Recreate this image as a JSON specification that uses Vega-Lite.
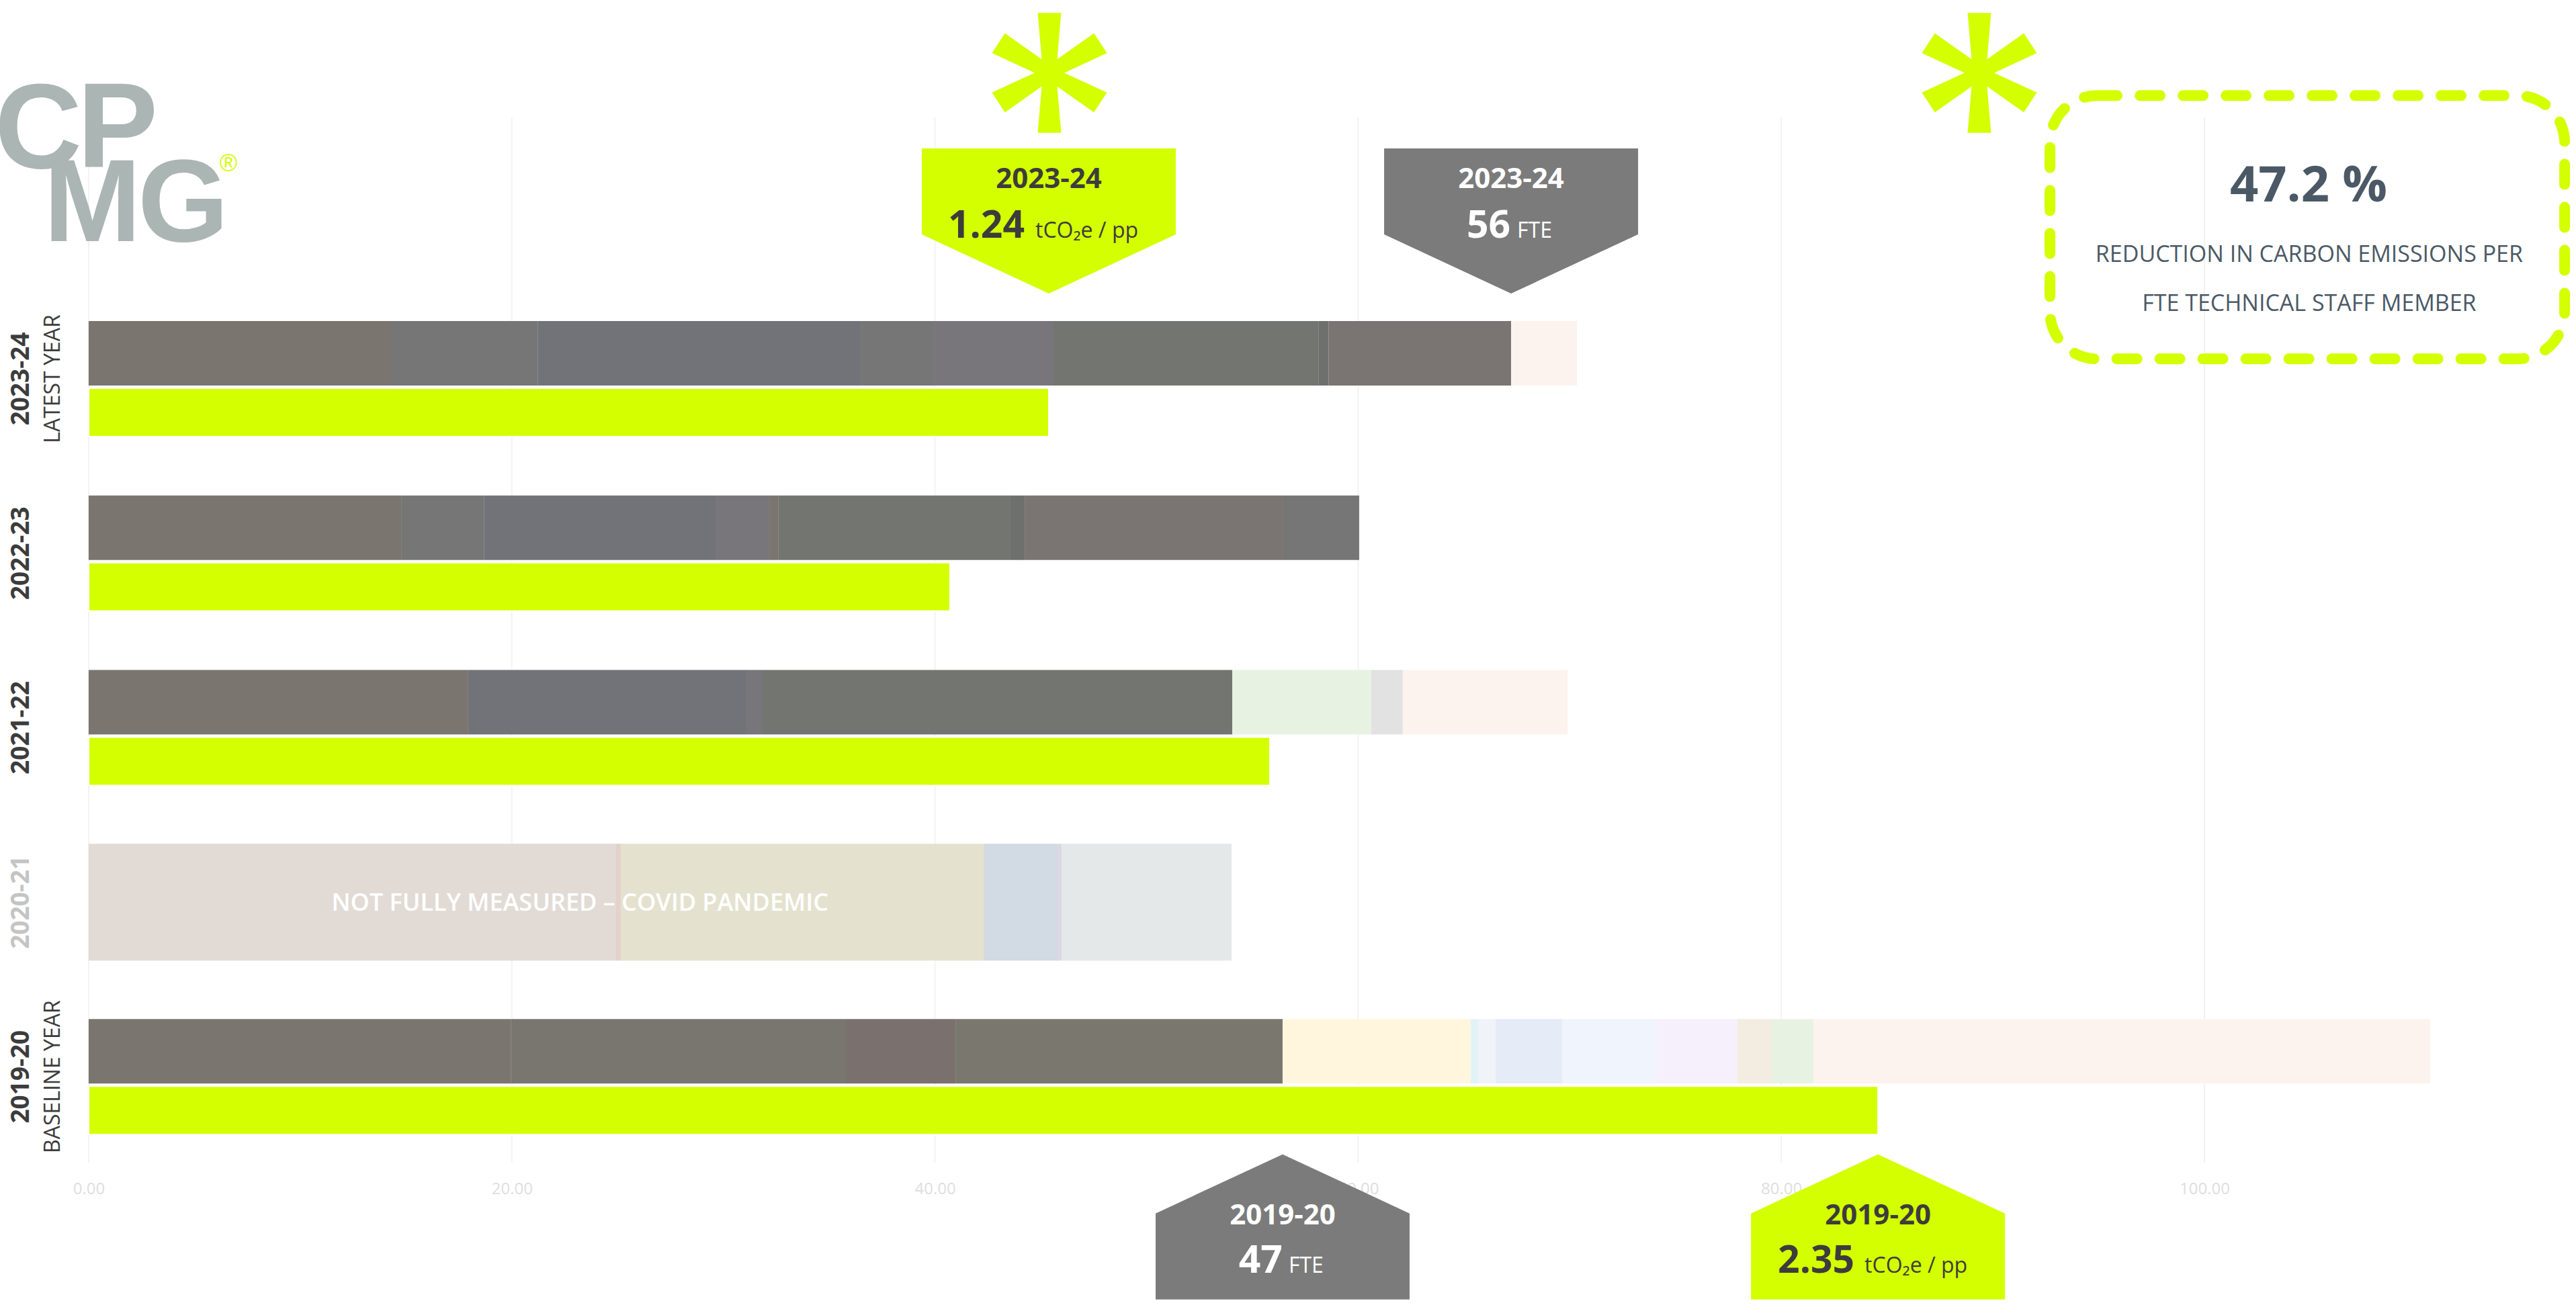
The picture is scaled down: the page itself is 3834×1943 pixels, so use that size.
{
  "$schema": "https://vega.github.io/schema/vega-lite/v6.json",
  "width": 3834,
  "height": 1943,
  "autosize": {"type": "none"},
  "padding": 0,
  "background": "white",
  "config": {"view": {"stroke": null}, "font": "Open Sans"},
  "datasets": {
    "ticks": [{"v": 0}, {"v": 20}, {"v": 40}, {"v": 60}, {"v": 80}, {"v": 100}],
    "segments": [
      {"fy": 2023, "tone": "d_brown", "start": 0, "end": 14.26},
      {"fy": 2023, "tone": "d_grey", "start": 14.26, "end": 21.24},
      {"fy": 2023, "tone": "d_blue", "start": 21.24, "end": 36.49},
      {"fy": 2023, "tone": "d_grey", "start": 36.49, "end": 39.98},
      {"fy": 2023, "tone": "d_purple", "start": 39.98, "end": 45.57},
      {"fy": 2023, "tone": "d_green", "start": 45.57, "end": 58.14},
      {"fy": 2023, "tone": "d_green2", "start": 58.14, "end": 58.6},
      {"fy": 2023, "tone": "d_rose", "start": 58.6, "end": 67.23},
      {"fy": 2023, "tone": "l_peach", "start": 67.23, "end": 70.34},
      {"fy": 2022, "tone": "d_brown", "start": 0, "end": 14.77},
      {"fy": 2022, "tone": "d_grey", "start": 14.77, "end": 18.7},
      {"fy": 2022, "tone": "d_blue", "start": 18.7, "end": 29.66},
      {"fy": 2022, "tone": "d_purple", "start": 29.66, "end": 32.2},
      {"fy": 2022, "tone": "d_brown", "start": 32.2, "end": 32.61},
      {"fy": 2022, "tone": "d_green", "start": 32.61, "end": 43.54},
      {"fy": 2022, "tone": "d_green2", "start": 43.54, "end": 44.24},
      {"fy": 2022, "tone": "d_rose", "start": 44.24, "end": 56.43},
      {"fy": 2022, "tone": "d_grey", "start": 56.43, "end": 60.05},
      {"fy": 2021, "tone": "d_brown", "start": 0, "end": 17.94},
      {"fy": 2021, "tone": "d_blue", "start": 17.94, "end": 31.12},
      {"fy": 2021, "tone": "d_purple", "start": 31.12, "end": 31.82},
      {"fy": 2021, "tone": "d_green", "start": 31.82, "end": 54.05},
      {"fy": 2021, "tone": "l_green", "start": 54.05, "end": 60.62},
      {"fy": 2021, "tone": "l_grey", "start": 60.62, "end": 62.11},
      {"fy": 2021, "tone": "l_peach", "start": 62.11, "end": 69.9},
      {"fy": 2020, "tone": "c_rose", "start": 0, "end": 24.93},
      {"fy": 2020, "tone": "c_red", "start": 24.93, "end": 25.15},
      {"fy": 2020, "tone": "c_beige", "start": 25.15, "end": 42.3},
      {"fy": 2020, "tone": "c_blue", "start": 42.3, "end": 45.76},
      {"fy": 2020, "tone": "c_lilac", "start": 45.76, "end": 46.0},
      {"fy": 2020, "tone": "c_grey", "start": 46.0, "end": 54.02},
      {"fy": 2019, "tone": "d_brown", "start": 0, "end": 19.97},
      {"fy": 2019, "tone": "d_brown2", "start": 19.97, "end": 35.79},
      {"fy": 2019, "tone": "d_red", "start": 35.79, "end": 40.97},
      {"fy": 2019, "tone": "d_olive", "start": 40.97, "end": 56.43},
      {"fy": 2019, "tone": "l_yellow", "start": 56.43, "end": 65.32},
      {"fy": 2019, "tone": "l_cyan", "start": 65.32, "end": 65.67},
      {"fy": 2019, "tone": "l_ice", "start": 65.67, "end": 66.5},
      {"fy": 2019, "tone": "l_blue", "start": 66.5, "end": 69.64},
      {"fy": 2019, "tone": "l_sky", "start": 69.64, "end": 74.09},
      {"fy": 2019, "tone": "l_lilac", "start": 74.09, "end": 77.93},
      {"fy": 2019, "tone": "l_sand", "start": 77.93, "end": 79.55},
      {"fy": 2019, "tone": "l_green", "start": 79.55, "end": 81.52},
      {"fy": 2019, "tone": "l_peach", "start": 81.52, "end": 110.67}
    ],
    "emissions": [
      {"fy": 2023, "value": 45.38},
      {"fy": 2022, "value": 40.71},
      {"fy": 2021, "value": 55.83},
      {"fy": 2019, "value": 84.57}
    ],
    "years": [
      {"fy": 2023, "label": "2023-24", "sub": "LATEST YEAR"},
      {"fy": 2022, "label": "2022-23", "sub": ""},
      {"fy": 2021, "label": "2021-22", "sub": ""},
      {"fy": 2020, "label": "2020-21", "sub": ""},
      {"fy": 2019, "label": "2019-20", "sub": "BASELINE YEAR"}
    ],
    "callouts": [
      {"fy": 2023, "side": "top", "metric": "emissions", "value": 45.38, "period": "2023-24", "number": "1.24", "unit": "tCO₂e / pp"},
      {"fy": 2023, "side": "top", "metric": "staff", "value": 67.23, "period": "2023-24", "number": "56", "unit": "FTE"},
      {"fy": 2019, "side": "bottom", "metric": "staff", "value": 56.43, "period": "2019-20", "number": "47", "unit": "FTE"},
      {"fy": 2019, "side": "bottom", "metric": "emissions", "value": 84.57, "period": "2019-20", "number": "2.35", "unit": "tCO₂e / pp"}
    ]
  },
  "layer": [
    {
      "data": {"name": "ticks"},
      "mark": {"type": "rule", "color": "#f3f3f3", "strokeWidth": 2},
      "encoding": {
        "x": {"field": "v", "type": "quantitative", "scale": {"domain": [-4.19, 117.56], "nice": false, "zero": false},
              "axis": {"orient": "bottom", "offset": -203, "values": [0, 20, 40, 60, 80, 100], "format": ".2f", "grid": false, "ticks": false, "domain": false, "labelColor": "#dedede", "labelFontSize": 24, "labelFont": "Open Sans", "labelPadding": 18, "title": null}},
        "y": {"datum": 2024.498, "type": "quantitative", "scale": {"domain": [2017.711, 2025.152], "nice": false, "zero": false}, "axis": null},
        "y2": {"datum": 2018.508}
      }
    },
    {
      "data": {"name": "segments"},
      "transform": [{"filter": "datum.fy !== 2020"}],
      "mark": {"type": "bar", "orient": "horizontal", "size": 96, "yOffset": -38},
      "encoding": {
        "x": {"field": "start", "type": "quantitative", "scale": {"domain": [-4.19, 117.56], "nice": false, "zero": false}},
        "x2": {"field": "end"},
        "y": {"field": "fy", "type": "quantitative", "scale": {"domain": [2017.711, 2025.152], "nice": false, "zero": false}, "axis": null},
        "color": {"field": "tone", "type": "nominal", "legend": null,
          "scale": {
            "domain": ["d_brown", "d_brown2", "d_grey", "d_blue", "d_purple", "d_green", "d_green2", "d_rose", "d_red", "d_olive", "l_peach", "l_green", "l_grey", "l_yellow", "l_cyan", "l_ice", "l_blue", "l_sky", "l_lilac", "l_sand", "c_rose", "c_red", "c_beige", "c_blue", "c_lilac", "c_grey"],
            "range": ["#7a756e", "#797670", "#767676", "#727378", "#78757b", "#737670", "#6e706d", "#7a7572", "#7a706e", "#7a776f", "#fcf3ee", "#e8f2e2", "#e2e2e2", "#fff6dd", "#e2f3f8", "#f0f3f8", "#e5ebf7", "#eff4fd", "#f6f0fd", "#f2ede0", "#e2dbd5", "#e6d0ca", "#e4e2cf", "#d2dae3", "#dbd7e3", "#e4e8e8"]
          }}
      }
    },
    {
      "data": {"name": "segments"},
      "transform": [{"filter": "datum.fy === 2020"}],
      "mark": {"type": "bar", "orient": "horizontal", "size": 174},
      "encoding": {
        "x": {"field": "start", "type": "quantitative", "scale": {"domain": [-4.19, 117.56], "nice": false, "zero": false}},
        "x2": {"field": "end"},
        "y": {"field": "fy", "type": "quantitative", "scale": {"domain": [2017.711, 2025.152], "nice": false, "zero": false}, "axis": null},
        "color": {"field": "tone", "type": "nominal", "legend": null,
          "scale": {
            "domain": ["d_brown", "d_brown2", "d_grey", "d_blue", "d_purple", "d_green", "d_green2", "d_rose", "d_red", "d_olive", "l_peach", "l_green", "l_grey", "l_yellow", "l_cyan", "l_ice", "l_blue", "l_sky", "l_lilac", "l_sand", "c_rose", "c_red", "c_beige", "c_blue", "c_lilac", "c_grey"],
            "range": ["#7a756e", "#797670", "#767676", "#727378", "#78757b", "#737670", "#6e706d", "#7a7572", "#7a706e", "#7a776f", "#fcf3ee", "#e8f2e2", "#e2e2e2", "#fff6dd", "#e2f3f8", "#f0f3f8", "#e5ebf7", "#eff4fd", "#f6f0fd", "#f2ede0", "#e2dbd5", "#e6d0ca", "#e4e2cf", "#d2dae3", "#dbd7e3", "#e4e8e8"]
          }}
      }
    },
    {
      "data": {"name": "emissions"},
      "mark": {"type": "bar", "orient": "horizontal", "size": 72, "yOffset": 50, "color": "#d4ff00", "stroke": "white", "strokeWidth": 2},
      "encoding": {
        "x": {"field": "value", "type": "quantitative", "stack": null, "scale": {"domain": [-4.19, 117.56], "nice": false, "zero": false}},
        "y": {"field": "fy", "type": "quantitative", "scale": {"domain": [2017.711, 2025.152], "nice": false, "zero": false}, "axis": null}
      }
    },
    {
      "data": {"values": [{"note": "NOT FULLY MEASURED – COVID PANDEMIC"}]},
      "mark": {"type": "text", "color": "white", "fontSize": 36, "fontWeight": 600, "align": "center", "baseline": "alphabetic"},
      "encoding": {
        "text": {"field": "note", "type": "nominal"},
        "x": {"datum": 23.22, "type": "quantitative", "scale": {"domain": [-4.19, 117.56], "nice": false, "zero": false}},
        "y": {"datum": 2019.951, "type": "quantitative", "scale": {"domain": [2017.711, 2025.152], "nice": false, "zero": false}, "axis": null}
      }
    },
    {
      "data": {"name": "years"},
      "mark": {"type": "text", "angle": 270, "fontSize": 37, "fontWeight": "bold", "align": "center", "baseline": "alphabetic"},
      "encoding": {
        "text": {"field": "label", "type": "nominal"},
        "x": {"datum": -2.826, "type": "quantitative", "scale": {"domain": [-4.19, 117.56], "nice": false, "zero": false}},
        "y": {"field": "fy", "type": "quantitative", "scale": {"domain": [2017.711, 2025.152], "nice": false, "zero": false}, "axis": null},
        "color": {"condition": {"test": "datum.fy === 2020", "value": "#c4c4c4"}, "value": "#3c3c3c"}
      }
    },
    {
      "data": {"name": "years"},
      "mark": {"type": "text", "angle": 270, "fontSize": 32, "color": "#3c3c3c", "align": "center", "baseline": "alphabetic"},
      "encoding": {
        "text": {"field": "sub", "type": "nominal"},
        "x": {"datum": -1.365, "type": "quantitative", "scale": {"domain": [-4.19, 117.56], "nice": false, "zero": false}},
        "y": {"field": "fy", "type": "quantitative", "scale": {"domain": [2017.711, 2025.152], "nice": false, "zero": false}, "axis": null}
      }
    },
    {
      "data": {"name": "callouts"},
      "transform": [{"filter": "datum.side === 'top'"}],
      "mark": {"type": "point", "filled": true, "opacity": 1, "size": 142884, "shape": "M 0 -0.672 L 1 -1.1376 L 1 -1.8148 L -1 -1.8148 L -1 -1.1376 Z"},
      "encoding": {
        "x": {"field": "value", "type": "quantitative", "scale": {"domain": [-4.19, 117.56], "nice": false, "zero": false}},
        "y": {"field": "fy", "type": "quantitative", "scale": {"domain": [2017.711, 2025.152], "nice": false, "zero": false}, "axis": null},
        "fill": {"field": "metric", "type": "nominal", "legend": null, "scale": {"domain": ["emissions", "staff"], "range": ["#d4ff00", "#7b7b7b"]}}
      }
    },
    {
      "data": {"name": "callouts"},
      "transform": [{"filter": "datum.side === 'bottom'"}],
      "mark": {"type": "point", "filled": true, "opacity": 1, "size": 142884, "shape": "M 0 0.611 L 1 1.0767 L 1 1.754 L -1 1.754 L -1 1.0767 Z"},
      "encoding": {
        "x": {"field": "value", "type": "quantitative", "scale": {"domain": [-4.19, 117.56], "nice": false, "zero": false}},
        "y": {"field": "fy", "type": "quantitative", "scale": {"domain": [2017.711, 2025.152], "nice": false, "zero": false}, "axis": null},
        "fill": {"field": "metric", "type": "nominal", "legend": null, "scale": {"domain": ["emissions", "staff"], "range": ["#d4ff00", "#7b7b7b"]}}
      }
    },
    {
      "data": {"name": "callouts"},
      "transform": [{"filter": "datum.side === 'top'"}],
      "mark": {"type": "text", "fontSize": 42, "fontWeight": "bold", "align": "center", "baseline": "alphabetic", "dy": -284},
      "encoding": {
        "text": {"field": "period", "type": "nominal"},
        "x": {"field": "value", "type": "quantitative", "scale": {"domain": [-4.19, 117.56], "nice": false, "zero": false}},
        "y": {"field": "fy", "type": "quantitative", "scale": {"domain": [2017.711, 2025.152], "nice": false, "zero": false}, "axis": null},
        "color": {"condition": {"test": "datum.metric === 'staff'", "value": "#ffffff"}, "value": "#3c3c3c"}
      }
    },
    {
      "data": {"name": "callouts"},
      "transform": [{"filter": "datum.side === 'bottom'"}],
      "mark": {"type": "text", "fontSize": 42, "fontWeight": "bold", "align": "center", "baseline": "alphabetic", "dy": 220},
      "encoding": {
        "text": {"field": "period", "type": "nominal"},
        "x": {"field": "value", "type": "quantitative", "scale": {"domain": [-4.19, 117.56], "nice": false, "zero": false}},
        "y": {"field": "fy", "type": "quantitative", "scale": {"domain": [2017.711, 2025.152], "nice": false, "zero": false}, "axis": null},
        "color": {"condition": {"test": "datum.metric === 'staff'", "value": "#ffffff"}, "value": "#3c3c3c"}
      }
    },
    {
      "data": {"name": "callouts"},
      "transform": [{"filter": "datum.side === 'top' && datum.metric === 'emissions'"}],
      "mark": {"type": "text", "fontSize": 57, "fontWeight": "bold", "align": "right", "baseline": "alphabetic", "dy": -210, "dx": -36, "color": "#3c3c3c"},
      "encoding": {
        "text": {"field": "number", "type": "nominal"},
        "x": {"field": "value", "type": "quantitative", "scale": {"domain": [-4.19, 117.56], "nice": false, "zero": false}},
        "y": {"field": "fy", "type": "quantitative", "scale": {"domain": [2017.711, 2025.152], "nice": false, "zero": false}, "axis": null}
      }
    },
    {
      "data": {"name": "callouts"},
      "transform": [{"filter": "datum.side === 'top' && datum.metric === 'emissions'"}],
      "mark": {"type": "text", "fontSize": 32, "align": "left", "baseline": "alphabetic", "dy": -210, "dx": -20, "color": "#3c3c3c"},
      "encoding": {
        "text": {"field": "unit", "type": "nominal"},
        "x": {"field": "value", "type": "quantitative", "scale": {"domain": [-4.19, 117.56], "nice": false, "zero": false}},
        "y": {"field": "fy", "type": "quantitative", "scale": {"domain": [2017.711, 2025.152], "nice": false, "zero": false}, "axis": null}
      }
    },
    {
      "data": {"name": "callouts"},
      "transform": [{"filter": "datum.side === 'top' && datum.metric === 'staff'"}],
      "mark": {"type": "text", "fontSize": 57, "fontWeight": "bold", "align": "right", "baseline": "alphabetic", "dy": -210, "dx": -1, "color": "#ffffff"},
      "encoding": {
        "text": {"field": "number", "type": "nominal"},
        "x": {"field": "value", "type": "quantitative", "scale": {"domain": [-4.19, 117.56], "nice": false, "zero": false}},
        "y": {"field": "fy", "type": "quantitative", "scale": {"domain": [2017.711, 2025.152], "nice": false, "zero": false}, "axis": null}
      }
    },
    {
      "data": {"name": "callouts"},
      "transform": [{"filter": "datum.side === 'top' && datum.metric === 'staff'"}],
      "mark": {"type": "text", "fontSize": 32, "align": "left", "baseline": "alphabetic", "dy": -210, "dx": 9, "color": "#ffffff"},
      "encoding": {
        "text": {"field": "unit", "type": "nominal"},
        "x": {"field": "value", "type": "quantitative", "scale": {"domain": [-4.19, 117.56], "nice": false, "zero": false}},
        "y": {"field": "fy", "type": "quantitative", "scale": {"domain": [2017.711, 2025.152], "nice": false, "zero": false}, "axis": null}
      }
    },
    {
      "data": {"name": "callouts"},
      "transform": [{"filter": "datum.side === 'bottom' && datum.metric === 'emissions'"}],
      "mark": {"type": "text", "fontSize": 57, "fontWeight": "bold", "align": "right", "baseline": "alphabetic", "dy": 292, "dx": -35, "color": "#3c3c3c"},
      "encoding": {
        "text": {"field": "number", "type": "nominal"},
        "x": {"field": "value", "type": "quantitative", "scale": {"domain": [-4.19, 117.56], "nice": false, "zero": false}},
        "y": {"field": "fy", "type": "quantitative", "scale": {"domain": [2017.711, 2025.152], "nice": false, "zero": false}, "axis": null}
      }
    },
    {
      "data": {"name": "callouts"},
      "transform": [{"filter": "datum.side === 'bottom' && datum.metric === 'emissions'"}],
      "mark": {"type": "text", "fontSize": 32, "align": "left", "baseline": "alphabetic", "dy": 292, "dx": -20, "color": "#3c3c3c"},
      "encoding": {
        "text": {"field": "unit", "type": "nominal"},
        "x": {"field": "value", "type": "quantitative", "scale": {"domain": [-4.19, 117.56], "nice": false, "zero": false}},
        "y": {"field": "fy", "type": "quantitative", "scale": {"domain": [2017.711, 2025.152], "nice": false, "zero": false}, "axis": null}
      }
    },
    {
      "data": {"name": "callouts"},
      "transform": [{"filter": "datum.side === 'bottom' && datum.metric === 'staff'"}],
      "mark": {"type": "text", "fontSize": 57, "fontWeight": "bold", "align": "right", "baseline": "alphabetic", "dy": 292, "dx": 0, "color": "#ffffff"},
      "encoding": {
        "text": {"field": "number", "type": "nominal"},
        "x": {"field": "value", "type": "quantitative", "scale": {"domain": [-4.19, 117.56], "nice": false, "zero": false}},
        "y": {"field": "fy", "type": "quantitative", "scale": {"domain": [2017.711, 2025.152], "nice": false, "zero": false}, "axis": null}
      }
    },
    {
      "data": {"name": "callouts"},
      "transform": [{"filter": "datum.side === 'bottom' && datum.metric === 'staff'"}],
      "mark": {"type": "text", "fontSize": 32, "align": "left", "baseline": "alphabetic", "dy": 292, "dx": 9, "color": "#ffffff"},
      "encoding": {
        "text": {"field": "unit", "type": "nominal"},
        "x": {"field": "value", "type": "quantitative", "scale": {"domain": [-4.19, 117.56], "nice": false, "zero": false}},
        "y": {"field": "fy", "type": "quantitative", "scale": {"domain": [2017.711, 2025.152], "nice": false, "zero": false}, "axis": null}
      }
    },
    {
      "data": {"values": [{"marker": "asterisk"}]},
      "mark": {"type": "point", "filled": true, "opacity": 1, "color": "#d4ff00", "size": 33856, "shape": "M -0.19 -0.97 L 0.19 -0.97 L 0.125 -0.22 L 0.72 -0.64 L 0.93 -0.32 L 0.24 0 L 0.93 0.32 L 0.72 0.64 L 0.125 0.22 L 0.19 0.97 L -0.19 0.97 L -0.125 0.22 L -0.72 0.64 L -0.93 0.32 L -0.24 0 L -0.93 -0.32 L -0.72 -0.64 L -0.125 -0.22 Z"},
      "encoding": {
        "x": {"datum": 45.41, "type": "quantitative", "scale": {"domain": [-4.19, 117.56], "nice": false, "zero": false}},
        "y": {"datum": 2024.754, "type": "quantitative", "scale": {"domain": [2017.711, 2025.152], "nice": false, "zero": false}, "axis": null}
      }
    },
    {
      "data": {"values": [{"marker": "asterisk"}]},
      "mark": {"type": "point", "filled": true, "opacity": 1, "color": "#d4ff00", "size": 33856, "shape": "M -0.19 -0.97 L 0.19 -0.97 L 0.125 -0.22 L 0.72 -0.64 L 0.93 -0.32 L 0.24 0 L 0.93 0.32 L 0.72 0.64 L 0.125 0.22 L 0.19 0.97 L -0.19 0.97 L -0.125 0.22 L -0.72 0.64 L -0.93 0.32 L -0.24 0 L -0.93 -0.32 L -0.72 -0.64 L -0.125 -0.22 Z"},
      "encoding": {
        "x": {"datum": 89.36, "type": "quantitative", "scale": {"domain": [-4.19, 117.56], "nice": false, "zero": false}},
        "y": {"datum": 2024.754, "type": "quantitative", "scale": {"domain": [2017.711, 2025.152], "nice": false, "zero": false}, "axis": null}
      }
    },
    {
      "data": {"values": [{"box": "reduction"}]},
      "mark": {"type": "point", "filled": false, "opacity": 1, "color": "#d4ff00", "strokeWidth": 16, "strokeDash": [30, 34], "strokeCap": "round", "size": 586756, "shape": "M -0.8172 -0.5117 L 0.8172 -0.5117 A 0.1828 0.1828 0 0 1 1 -0.3289 L 1 0.3289 A 0.1828 0.1828 0 0 1 0.8172 0.5117 L -0.8172 0.5117 A 0.1828 0.1828 0 0 1 -1 0.3289 L -1 -0.3289 A 0.1828 0.1828 0 0 1 -0.8172 -0.5117 Z"},
      "encoding": {
        "x": {"datum": 104.86, "type": "quantitative", "scale": {"domain": [-4.19, 117.56], "nice": false, "zero": false}},
        "y": {"datum": 2023.869, "type": "quantitative", "scale": {"domain": [2017.711, 2025.152], "nice": false, "zero": false}, "axis": null}
      }
    },
    {
      "data": {"values": [{"t": "47.2 %"}]},
      "mark": {"type": "text", "fontSize": 74, "fontWeight": "bold", "color": "#4b5966", "align": "center", "baseline": "alphabetic"},
      "encoding": {
        "text": {"field": "t", "type": "nominal"},
        "x": {"datum": 104.92, "type": "quantitative", "scale": {"domain": [-4.19, 117.56], "nice": false, "zero": false}},
        "y": {"datum": 2024.018, "type": "quantitative", "scale": {"domain": [2017.711, 2025.152], "nice": false, "zero": false}, "axis": null}
      }
    },
    {
      "data": {"values": [{"t": "REDUCTION IN CARBON EMISSIONS PER"}]},
      "mark": {"type": "text", "fontSize": 34, "color": "#4b5966", "align": "center", "baseline": "alphabetic"},
      "encoding": {
        "text": {"field": "t", "type": "nominal"},
        "x": {"datum": 104.95, "type": "quantitative", "scale": {"domain": [-4.19, 117.56], "nice": false, "zero": false}},
        "y": {"datum": 2023.67, "type": "quantitative", "scale": {"domain": [2017.711, 2025.152], "nice": false, "zero": false}, "axis": null}
      }
    },
    {
      "data": {"values": [{"t": "FTE TECHNICAL STAFF MEMBER"}]},
      "mark": {"type": "text", "fontSize": 34, "color": "#4b5966", "align": "center", "baseline": "alphabetic"},
      "encoding": {
        "text": {"field": "t", "type": "nominal"},
        "x": {"datum": 104.95, "type": "quantitative", "scale": {"domain": [-4.19, 117.56], "nice": false, "zero": false}},
        "y": {"datum": 2023.39, "type": "quantitative", "scale": {"domain": [2017.711, 2025.152], "nice": false, "zero": false}, "axis": null}
      }
    },
    {
      "data": {"values": [{"t": "C"}]},
      "mark": {"type": "text", "font": "Liberation Sans", "fontSize": 180, "fontWeight": "bold", "color": "#abb5b3", "align": "left", "baseline": "alphabetic"},
      "encoding": {
        "text": {"field": "t", "type": "nominal"},
        "x": {"datum": -4.446, "type": "quantitative", "scale": {"domain": [-4.19, 117.56], "nice": false, "zero": false}},
        "y": {"datum": 2024.21, "type": "quantitative", "scale": {"domain": [2017.711, 2025.152], "nice": false, "zero": false}, "axis": null}
      }
    },
    {
      "data": {"values": [{"t": "P"}]},
      "mark": {"type": "text", "font": "Liberation Sans", "fontSize": 180, "fontWeight": "bold", "color": "#abb5b3", "align": "left", "baseline": "alphabetic"},
      "encoding": {
        "text": {"field": "t", "type": "nominal"},
        "x": {"datum": -0.54, "type": "quantitative", "scale": {"domain": [-4.19, 117.56], "nice": false, "zero": false}},
        "y": {"datum": 2024.214, "type": "quantitative", "scale": {"domain": [2017.711, 2025.152], "nice": false, "zero": false}, "axis": null}
      }
    },
    {
      "data": {"values": [{"t": "M"}]},
      "mark": {"type": "text", "font": "Liberation Sans", "fontSize": 174, "fontWeight": "bold", "color": "#abb5b3", "align": "left", "baseline": "alphabetic"},
      "encoding": {
        "text": {"field": "t", "type": "nominal"},
        "x": {"datum": -2.128, "type": "quantitative", "scale": {"domain": [-4.19, 117.56], "nice": false, "zero": false}},
        "y": {"datum": 2023.789, "type": "quantitative", "scale": {"domain": [2017.711, 2025.152], "nice": false, "zero": false}, "axis": null}
      }
    },
    {
      "data": {"values": [{"t": "G"}]},
      "mark": {"type": "text", "font": "Liberation Sans", "fontSize": 174, "fontWeight": "bold", "color": "#abb5b3", "align": "left", "baseline": "alphabetic"},
      "encoding": {
        "text": {"field": "t", "type": "nominal"},
        "x": {"datum": 2.318, "type": "quantitative", "scale": {"domain": [-4.19, 117.56], "nice": false, "zero": false}},
        "y": {"datum": 2023.789, "type": "quantitative", "scale": {"domain": [2017.711, 2025.152], "nice": false, "zero": false}, "axis": null}
      }
    },
    {
      "data": {"values": [{"t": "®"}]},
      "mark": {"type": "text", "font": "Liberation Sans", "fontSize": 36, "color": "#d4ff00", "align": "center", "baseline": "middle"},
      "encoding": {
        "text": {"field": "t", "type": "nominal"},
        "x": {"datum": 6.605, "type": "quantitative", "scale": {"domain": [-4.19, 117.56], "nice": false, "zero": false}},
        "y": {"datum": 2024.233, "type": "quantitative", "scale": {"domain": [2017.711, 2025.152], "nice": false, "zero": false}, "axis": null}
      }
    }
  ]
}
